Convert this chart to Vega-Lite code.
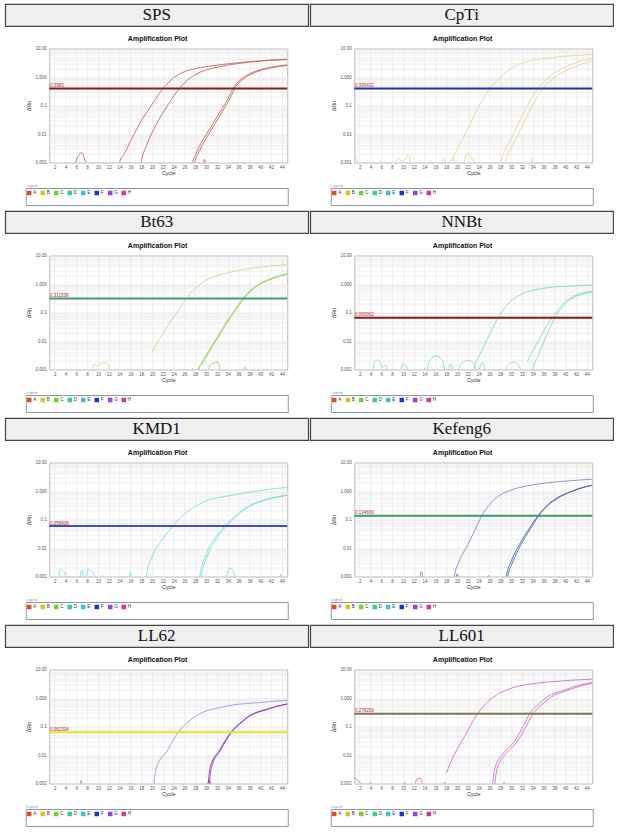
{
"$schema": "https://vega.github.io/schema/vega-lite/v6.json",
"padding": {"left": 4, "top": 3, "right": 0, "bottom": 0},
"background": "white",
"datasets": {
"leg": [{"k":"A"},{"k":"B"},{"k":"C"},{"k":"D"},{"k":"E"},{"k":"F"},{"k":"G"},{"k":"H"}],
"none": []
},
"config": {
"axis": {"labelFont": "Liberation Sans", "titleFont": "Liberation Sans", "labelFontSize": 4.5, "titleFontSize": 5.5, "titleFontWeight": "normal", "labelColor": "#555", "titleColor": "#333", "domain": false, "ticks": false, "gridColor": "#e2e2e2", "gridWidth": 0.6, "labelOverlap": false, "tickCount": 60},
"title": {"font": "Liberation Sans"}
},
"spacing": 4,
"vconcat": [
{"hconcat": [
 {"vconcat": [
  {"width": 303, "height": 22, "view": {"fill": "#efefef", "stroke": "#444", "strokeWidth": 1.2},
   "data": {"values": [{"n": "SPS"}]},
   "mark": {"type": "text", "font": "Liberation Serif", "fontSize": 17, "baseline": "middle", "color": "#111"},
   "encoding": {"text": {"field": "n"}}},
  {"hconcat": [
  {"width": 1, "height": 1, "view": {"stroke": null}, "data": {"name": "none"}, "mark": "point"},
  {"width": 238, "height": 114,
   "title": {"text": "Amplification Plot", "fontSize": 7, "fontWeight": "bold", "offset": 4, "frame": "bounds", "color": "#111"},
   "view": {"stroke": "#b8b8b8", "fill": "white"},
   "encoding": {"y": {"field": "v", "type": "quantitative", "scale": {"type": "log", "domain": [0.001, 10]}, "axis": {"title": "ΔRn", "tickCount": 60, "values": [0.001,0.002,0.003,0.004,0.005,0.006,0.007,0.008,0.009,0.01,0.02,0.03,0.04,0.05,0.06,0.07,0.08,0.09,0.1,0.2,0.3,0.4,0.5,0.6,0.7,0.8,0.9,1,2,3,4,5,6,7,8,9,10], "labelExpr": "datum.value==10?'10.00':datum.value==1?'1.000':datum.value==0.1?'0.1':datum.value==0.01?'0.01':datum.value==0.001?'0.001':''", "labelOverlap": false, "labelPadding": 3, "titlePadding": 3}}},
   "layer": [
    {"data": {"values": [
{"c":"1","x":13.7,"v":0.0005},{"c":"1","x":14,"v":0.001},{"c":"1","x":15,"v":0.0022},{"c":"1","x":16,"v":0.0056},{"c":"1","x":17,"v":0.0127},{"c":"1","x":18,"v":0.029},{"c":"1","x":19,"v":0.056},{"c":"1","x":20,"v":0.11},{"c":"1","x":21,"v":0.21},{"c":"1","x":22,"v":0.39},{"c":"1","x":23,"v":0.63},{"c":"1","x":24,"v":0.95},{"c":"1","x":25,"v":1.24},{"c":"1","x":26,"v":1.54},{"c":"1","x":28,"v":1.96},{"c":"1","x":30,"v":2.3},{"c":"1","x":34,"v":2.9},{"c":"1","x":38,"v":3.45},{"c":"1","x":42,"v":3.95},{"c":"1","x":45,"v":4.2},
{"c":"2","x":17.8,"v":0.0005},{"c":"2","x":18,"v":0.001},{"c":"2","x":19,"v":0.004},{"c":"2","x":20,"v":0.011},{"c":"2","x":21,"v":0.026},{"c":"2","x":22,"v":0.055},{"c":"2","x":23,"v":0.11},{"c":"2","x":24,"v":0.21},{"c":"2","x":25,"v":0.38},{"c":"2","x":26,"v":0.62},{"c":"2","x":27,"v":0.92},{"c":"2","x":28,"v":1.2},{"c":"2","x":29,"v":1.5},{"c":"2","x":30,"v":1.75},{"c":"2","x":32,"v":2.2},{"c":"2","x":34,"v":2.6},{"c":"2","x":36,"v":3.0},{"c":"2","x":38,"v":3.3},{"c":"2","x":40,"v":3.6},{"c":"2","x":42,"v":3.85},{"c":"2","x":45,"v":4.1},
{"c":"3","x":27.3,"v":0.0005},{"c":"3","x":27.5,"v":0.001},{"c":"3","x":28,"v":0.0018},{"c":"3","x":29,"v":0.0045},{"c":"3","x":30,"v":0.0095},{"c":"3","x":31,"v":0.019},{"c":"3","x":32,"v":0.04},{"c":"3","x":33,"v":0.08},{"c":"3","x":34,"v":0.17},{"c":"3","x":35,"v":0.4},{"c":"3","x":36,"v":0.7},{"c":"3","x":37,"v":1.0},{"c":"3","x":38,"v":1.3},{"c":"3","x":39,"v":1.55},{"c":"3","x":40,"v":1.8},{"c":"3","x":42,"v":2.2},{"c":"3","x":45,"v":2.65},
{"c":"4","x":27.7,"v":0.0005},{"c":"4","x":27.9,"v":0.001},{"c":"4","x":28.5,"v":0.002},{"c":"4","x":29.5,"v":0.0048},{"c":"4","x":30.5,"v":0.01},{"c":"4","x":31.5,"v":0.021},{"c":"4","x":32.5,"v":0.043},{"c":"4","x":33.5,"v":0.088},{"c":"4","x":34.5,"v":0.19},{"c":"4","x":35.3,"v":0.4},{"c":"4","x":36.3,"v":0.68},{"c":"4","x":37.3,"v":0.98},{"c":"4","x":38.3,"v":1.25},{"c":"4","x":39.3,"v":1.5},{"c":"4","x":40.3,"v":1.75},{"c":"4","x":42,"v":2.1},{"c":"4","x":45,"v":2.55},
{"c":"n1","x":5.7,"v":0.0005},{"c":"n1","x":6,"v":0.0012},{"c":"n1","x":7,"v":0.0022},{"c":"n1","x":7.6,"v":0.0012},{"c":"n1","x":8.1,"v":0.0005},
{"c":"n2","x":29.4,"v":0.0005},{"c":"n2","x":29.7,"v":0.0013},{"c":"n2","x":30,"v":0.0005}
    ]},
     "mark": {"type": "line", "clip": true, "interpolate": "monotone", "strokeWidth": 0.9, "color": "#c46a5e"},
     "encoding": {"x": {"field": "x", "type": "quantitative", "scale": {"domain": [1, 45], "nice": false, "zero": false}, "axis": {"title": "Cycle", "tickCount": 60, "values": [2,4,6,8,10,12,14,16,18,20,22,24,26,28,30,32,34,36,38,40,42,44], "labelPadding": 2, "titlePadding": 1, "labelFlush": false, "labelOverlap": false}}, "detail": {"field": "c"}}},
    {"data": {"values": [{"v": 0.3983, "lab": "0.3983"}]}, "mark": {"type": "rule", "color": "#8e1b1b", "strokeWidth": 2}, "encoding": {}},
    {"data": {"values": [{"v": 0.3983, "lab": "0.3983"}]}, "mark": {"type": "text", "align": "left", "baseline": "bottom", "dy": -0.5, "fontSize": 4.5, "color": "#c03030", "font": "Liberation Sans"}, "encoding": {"x": {"datum": 1.15}, "text": {"field": "lab"}}}
   ]}
  ], "spacing": 0},
  {"width": 262, "height": 17, "view": {"stroke": "#8a9aa4", "fill": "white"},
   "title": {"text": "Legend", "fontSize": 3.5, "anchor": "start", "offset": 1, "color": "#999", "fontWeight": "normal"},
   "data": {"name": "leg"},
   "encoding": {"x": {"field": "k", "type": "nominal", "scale": {"type": "point", "range": [3.5, 98], "padding": 0}, "axis": null}},
   "layer": [
    {"mark": {"type": "square", "size": 20, "opacity": 1, "yOffset": -3.5}, "encoding": {"color": {"field": "k", "type": "nominal", "scale": {"domain": ["A","B","C","D","E","F","G","H"], "range": ["#e8482a","#d8c41e","#6fd628","#2fd67a","#38c0e8","#2030d8","#9a3ee6","#e8308c"]}, "legend": null}}},
    {"mark": {"type": "text", "fontSize": 4.5, "align": "left", "dx": 4, "yOffset": -3.5, "color": "#333", "font": "Liberation Sans"}, "encoding": {"text": {"field": "k"}}}
   ]}
 ], "spacing": 6.5, "center": true},
 {"vconcat": [
  {"width": 303, "height": 22, "view": {"fill": "#efefef", "stroke": "#444", "strokeWidth": 1.2},
   "data": {"values": [{"n": "CpTi"}]},
   "mark": {"type": "text", "font": "Liberation Serif", "fontSize": 17, "baseline": "middle", "color": "#111"},
   "encoding": {"text": {"field": "n"}}},
  {"hconcat": [
  {"width": 1, "height": 1, "view": {"stroke": null}, "data": {"name": "none"}, "mark": "point"},
  {"width": 238, "height": 114,
   "title": {"text": "Amplification Plot", "fontSize": 7, "fontWeight": "bold", "offset": 4, "frame": "bounds", "color": "#111"},
   "view": {"stroke": "#b8b8b8", "fill": "white"},
   "encoding": {"y": {"field": "v", "type": "quantitative", "scale": {"type": "log", "domain": [0.001, 10]}, "axis": {"title": "ΔRn", "tickCount": 60, "values": [0.001,0.002,0.003,0.004,0.005,0.006,0.007,0.008,0.009,0.01,0.02,0.03,0.04,0.05,0.06,0.07,0.08,0.09,0.1,0.2,0.3,0.4,0.5,0.6,0.7,0.8,0.9,1,2,3,4,5,6,7,8,9,10], "labelExpr": "datum.value==10?'10.00':datum.value==1?'1.000':datum.value==0.1?'0.1':datum.value==0.01?'0.01':datum.value==0.001?'0.001':''", "labelOverlap": false, "labelPadding": 3, "titlePadding": 3}}},
   "layer": [
    {"data": {"values": [
{"c":"1","x":19,"v":0.0005},{"c":"1","x":19.3,"v":0.0013},{"c":"1","x":20.2,"v":0.0033},{"c":"1","x":21.5,"v":0.0098},{"c":"1","x":22.7,"v":0.029},{"c":"1","x":23.9,"v":0.083},{"c":"1","x":25.2,"v":0.22},{"c":"1","x":26.1,"v":0.4},{"c":"1","x":27.3,"v":0.72},{"c":"1","x":28.9,"v":1.42},{"c":"1","x":30.7,"v":2.4},{"c":"1","x":33.2,"v":3.6},{"c":"1","x":36.3,"v":4.5},{"c":"1","x":40,"v":5.3},{"c":"1","x":45,"v":6.3},
{"c":"2","x":27.9,"v":0.0005},{"c":"2","x":28.2,"v":0.0013},{"c":"2","x":29.1,"v":0.0033},{"c":"2","x":30.4,"v":0.0098},{"c":"2","x":31.6,"v":0.029},{"c":"2","x":32.8,"v":0.083},{"c":"2","x":34.1,"v":0.22},{"c":"2","x":35,"v":0.4},{"c":"2","x":36.2,"v":0.72},{"c":"2","x":37.8,"v":1.3},{"c":"2","x":39.6,"v":2.0},{"c":"2","x":42,"v":3.2},{"c":"2","x":45,"v":4.4},
{"c":"3","x":28.8,"v":0.0005},{"c":"3","x":29.1,"v":0.0013},{"c":"3","x":30,"v":0.0033},{"c":"3","x":31.3,"v":0.0098},{"c":"3","x":32.5,"v":0.029},{"c":"3","x":33.7,"v":0.083},{"c":"3","x":35,"v":0.22},{"c":"3","x":35.9,"v":0.4},{"c":"3","x":37.1,"v":0.7},{"c":"3","x":38.7,"v":1.2},{"c":"3","x":40.5,"v":1.8},{"c":"3","x":42.5,"v":2.6},{"c":"3","x":45,"v":3.7},
{"c":"n1","x":1,"v":0.0019},{"c":"n1","x":1.5,"v":0.0012},{"c":"n1","x":2.2,"v":0.0005},
{"c":"n2","x":5.4,"v":0.0005},{"c":"n2","x":5.8,"v":0.0011},{"c":"n2","x":6.3,"v":0.0005},
{"c":"n3","x":8.4,"v":0.0005},{"c":"n3","x":9.1,"v":0.0014},{"c":"n3","x":9.8,"v":0.0011},{"c":"n3","x":10.5,"v":0.0013},{"c":"n3","x":11,"v":0.0019},{"c":"n3","x":11.6,"v":0.0005},
{"c":"n4","x":14.5,"v":0.0005},{"c":"n4","x":15,"v":0.0012},{"c":"n4","x":15.5,"v":0.0005},
{"c":"n5","x":16.8,"v":0.0005},{"c":"n5","x":17.5,"v":0.0014},{"c":"n5","x":18.2,"v":0.0008},{"c":"n5","x":19.2,"v":0.0015},{"c":"n5","x":19.8,"v":0.0005},
{"c":"n6","x":21,"v":0.0005},{"c":"n6","x":21.9,"v":0.0021},{"c":"n6","x":23,"v":0.0012},{"c":"n6","x":24,"v":0.0005},
{"c":"n7","x":33.6,"v":0.0005},{"c":"n7","x":33.8,"v":0.0014},{"c":"n7","x":34,"v":0.0005}
    ]},
     "mark": {"type": "line", "clip": true, "interpolate": "monotone", "strokeWidth": 0.9, "color": "#e6d690"},
     "encoding": {"x": {"field": "x", "type": "quantitative", "scale": {"domain": [1, 45], "nice": false, "zero": false}, "axis": {"title": "Cycle", "tickCount": 60, "values": [2,4,6,8,10,12,14,16,18,20,22,24,26,28,30,32,34,36,38,40,42,44], "labelPadding": 2, "titlePadding": 1, "labelFlush": false, "labelOverlap": false}}, "detail": {"field": "c"}}},
    {"data": {"values": [{"v": 0.3954, "lab": "0.395432"}]}, "mark": {"type": "rule", "color": "#2233b0", "strokeWidth": 2}, "encoding": {}},
    {"data": {"values": [{"v": 0.3954, "lab": "0.395432"}]}, "mark": {"type": "text", "align": "left", "baseline": "bottom", "dy": -0.5, "fontSize": 4.5, "color": "#c03030", "font": "Liberation Sans"}, "encoding": {"x": {"datum": 1.15}, "text": {"field": "lab"}}}
   ]}
  ], "spacing": 0},
  {"width": 262, "height": 17, "view": {"stroke": "#8a9aa4", "fill": "white"},
   "title": {"text": "Legend", "fontSize": 3.5, "anchor": "start", "offset": 1, "color": "#999", "fontWeight": "normal"},
   "data": {"name": "leg"},
   "encoding": {"x": {"field": "k", "type": "nominal", "scale": {"type": "point", "range": [3.5, 98], "padding": 0}, "axis": null}},
   "layer": [
    {"mark": {"type": "square", "size": 20, "opacity": 1, "yOffset": -3.5}, "encoding": {"color": {"field": "k", "type": "nominal", "scale": {"domain": ["A","B","C","D","E","F","G","H"], "range": ["#e8482a","#d8c41e","#6fd628","#2fd67a","#38c0e8","#2030d8","#9a3ee6","#e8308c"]}, "legend": null}}},
    {"mark": {"type": "text", "fontSize": 4.5, "align": "left", "dx": 4, "yOffset": -3.5, "color": "#333", "font": "Liberation Sans"}, "encoding": {"text": {"field": "k"}}}
   ]}
 ], "spacing": 6.5, "center": true}
], "spacing": 0},
{"hconcat": [
 {"vconcat": [
  {"width": 303, "height": 22, "view": {"fill": "#efefef", "stroke": "#444", "strokeWidth": 1.2},
   "data": {"values": [{"n": "Bt63"}]},
   "mark": {"type": "text", "font": "Liberation Serif", "fontSize": 17, "baseline": "middle", "color": "#111"},
   "encoding": {"text": {"field": "n"}}},
  {"hconcat": [
  {"width": 1, "height": 1, "view": {"stroke": null}, "data": {"name": "none"}, "mark": "point"},
  {"width": 238, "height": 114,
   "title": {"text": "Amplification Plot", "fontSize": 7, "fontWeight": "bold", "offset": 4, "frame": "bounds", "color": "#111"},
   "view": {"stroke": "#b8b8b8", "fill": "white"},
   "data": {"values": [
{"c":"1","x":20,"v":0.0043},{"c":"1","x":21,"v":0.009},{"c":"1","x":22,"v":0.018},{"c":"1","x":23,"v":0.037},{"c":"1","x":24,"v":0.07},{"c":"1","x":25,"v":0.13},{"c":"1","x":26,"v":0.24},{"c":"1","x":27,"v":0.45},{"c":"1","x":28,"v":0.7},{"c":"1","x":29,"v":1.0},{"c":"1","x":30,"v":1.35},{"c":"1","x":32,"v":1.95},{"c":"1","x":34,"v":2.5},{"c":"1","x":36,"v":3.0},{"c":"1","x":38,"v":3.45},{"c":"1","x":40,"v":3.9},{"c":"1","x":42,"v":4.3},{"c":"1","x":45,"v":4.8},
{"c":"2","x":28.3,"v":0.0005},{"c":"2","x":28.5,"v":0.001},{"c":"2","x":29,"v":0.0015},{"c":"2","x":30,"v":0.0032},{"c":"2","x":31,"v":0.0065},{"c":"2","x":32,"v":0.013},{"c":"2","x":33,"v":0.027},{"c":"2","x":34,"v":0.055},{"c":"2","x":35,"v":0.1},{"c":"2","x":36,"v":0.19},{"c":"2","x":37,"v":0.35},{"c":"2","x":38,"v":0.55},{"c":"2","x":39,"v":0.8},{"c":"2","x":40,"v":1.05},{"c":"2","x":41,"v":1.3},{"c":"2","x":42,"v":1.55},{"c":"2","x":43,"v":1.8},{"c":"2","x":45,"v":2.3},
{"c":"3","x":28.45,"v":0.0005},{"c":"3","x":28.65,"v":0.001},{"c":"3","x":29.15,"v":0.0015},{"c":"3","x":30.15,"v":0.0031},{"c":"3","x":31.15,"v":0.0063},{"c":"3","x":32.15,"v":0.0127},{"c":"3","x":33.15,"v":0.026},{"c":"3","x":34.15,"v":0.053},{"c":"3","x":35.15,"v":0.098},{"c":"3","x":36.15,"v":0.185},{"c":"3","x":37.15,"v":0.34},{"c":"3","x":38.15,"v":0.53},{"c":"3","x":39.15,"v":0.78},{"c":"3","x":40.15,"v":1.02},{"c":"3","x":41.15,"v":1.27},{"c":"3","x":42.15,"v":1.5},{"c":"3","x":43.15,"v":1.75},{"c":"3","x":45,"v":2.2},
{"c":"n1","x":8.8,"v":0.0005},{"c":"n1","x":9.2,"v":0.0015},{"c":"n1","x":10,"v":0.0013},{"c":"n1","x":10.7,"v":0.0017},{"c":"n1","x":11.6,"v":0.0017},{"c":"n1","x":12.6,"v":0.0005},
{"c":"n2","x":27.2,"v":0.0005},{"c":"n2","x":27.5,"v":0.0011},{"c":"n2","x":27.9,"v":0.0005},
{"c":"n3","x":30.2,"v":0.0005},{"c":"n3","x":30.8,"v":0.0015},{"c":"n3","x":31.5,"v":0.0017},{"c":"n3","x":32.2,"v":0.0018},{"c":"n3","x":32.8,"v":0.0005},
{"c":"n4","x":36.7,"v":0.0005},{"c":"n4","x":37.2,"v":0.0012},{"c":"n4","x":37.8,"v":0.0005}
   ]},
   "encoding": {"y": {"field": "v", "type": "quantitative", "scale": {"type": "log", "domain": [0.001, 10]}, "axis": {"title": "ΔRn", "tickCount": 60, "values": [0.001,0.002,0.003,0.004,0.005,0.006,0.007,0.008,0.009,0.01,0.02,0.03,0.04,0.05,0.06,0.07,0.08,0.09,0.1,0.2,0.3,0.4,0.5,0.6,0.7,0.8,0.9,1,2,3,4,5,6,7,8,9,10], "labelExpr": "datum.value==10?'10.00':datum.value==1?'1.000':datum.value==0.1?'0.1':datum.value==0.01?'0.01':datum.value==0.001?'0.001':''", "labelOverlap": false, "labelPadding": 3, "titlePadding": 3}}},
   "layer": [
    {"transform": [{"filter": "datum.c == '1' || datum.c == 'n1'"}],
     "mark": {"type": "line", "clip": true, "interpolate": "monotone", "strokeWidth": 0.9, "color": "#bde08f"},
     "encoding": {"x": {"field": "x", "type": "quantitative", "scale": {"domain": [1, 45], "nice": false, "zero": false}, "axis": {"title": "Cycle", "tickCount": 60, "values": [2,4,6,8,10,12,14,16,18,20,22,24,26,28,30,32,34,36,38,40,42,44], "labelPadding": 2, "titlePadding": 1, "labelFlush": false, "labelOverlap": false}}, "detail": {"field": "c"}}},
    {"transform": [{"filter": "datum.c != '1' && datum.c != 'n1'"}],
     "mark": {"type": "line", "clip": true, "interpolate": "monotone", "strokeWidth": 0.9, "color": "#99d160"},
     "encoding": {"x": {"field": "x", "type": "quantitative", "scale": {"domain": [1, 45], "nice": false, "zero": false}, "axis": {"title": "Cycle", "tickCount": 60, "values": [2,4,6,8,10,12,14,16,18,20,22,24,26,28,30,32,34,36,38,40,42,44], "labelPadding": 2, "titlePadding": 1, "labelFlush": false, "labelOverlap": false}}, "detail": {"field": "c"}}},
    {"data": {"values": [{"v": 0.3115, "lab": "0.311538"}]}, "mark": {"type": "rule", "color": "#3f9e72", "strokeWidth": 2}, "encoding": {}},
    {"data": {"values": [{"v": 0.3115, "lab": "0.311538"}]}, "mark": {"type": "text", "align": "left", "baseline": "bottom", "dy": -0.5, "fontSize": 4.5, "color": "#c03030", "font": "Liberation Sans"}, "encoding": {"x": {"datum": 1.15}, "text": {"field": "lab"}}}
   ]}
  ], "spacing": 0},
  {"width": 262, "height": 17, "view": {"stroke": "#8a9aa4", "fill": "white"},
   "title": {"text": "Legend", "fontSize": 3.5, "anchor": "start", "offset": 1, "color": "#999", "fontWeight": "normal"},
   "data": {"name": "leg"},
   "encoding": {"x": {"field": "k", "type": "nominal", "scale": {"type": "point", "range": [3.5, 98], "padding": 0}, "axis": null}},
   "layer": [
    {"mark": {"type": "square", "size": 20, "opacity": 1, "yOffset": -3.5}, "encoding": {"color": {"field": "k", "type": "nominal", "scale": {"domain": ["A","B","C","D","E","F","G","H"], "range": ["#e8482a","#d8c41e","#6fd628","#2fd67a","#38c0e8","#2030d8","#9a3ee6","#e8308c"]}, "legend": null}}},
    {"mark": {"type": "text", "fontSize": 4.5, "align": "left", "dx": 4, "yOffset": -3.5, "color": "#333", "font": "Liberation Sans"}, "encoding": {"text": {"field": "k"}}}
   ]}
 ], "spacing": 6.5, "center": true},
 {"vconcat": [
  {"width": 303, "height": 22, "view": {"fill": "#efefef", "stroke": "#444", "strokeWidth": 1.2},
   "data": {"values": [{"n": "NNBt"}]},
   "mark": {"type": "text", "font": "Liberation Serif", "fontSize": 17, "baseline": "middle", "color": "#111"},
   "encoding": {"text": {"field": "n"}}},
  {"hconcat": [
  {"width": 1, "height": 1, "view": {"stroke": null}, "data": {"name": "none"}, "mark": "point"},
  {"width": 238, "height": 114,
   "title": {"text": "Amplification Plot", "fontSize": 7, "fontWeight": "bold", "offset": 4, "frame": "bounds", "color": "#111"},
   "view": {"stroke": "#b8b8b8", "fill": "white"},
   "encoding": {"y": {"field": "v", "type": "quantitative", "scale": {"type": "log", "domain": [0.001, 10]}, "axis": {"title": "ΔRn", "tickCount": 60, "values": [0.001,0.002,0.003,0.004,0.005,0.006,0.007,0.008,0.009,0.01,0.02,0.03,0.04,0.05,0.06,0.07,0.08,0.09,0.1,0.2,0.3,0.4,0.5,0.6,0.7,0.8,0.9,1,2,3,4,5,6,7,8,9,10], "labelExpr": "datum.value==10?'10.00':datum.value==1?'1.000':datum.value==0.1?'0.1':datum.value==0.01?'0.01':datum.value==0.001?'0.001':''", "labelOverlap": false, "labelPadding": 3, "titlePadding": 3}}},
   "layer": [
    {"data": {"values": [
{"c":"1","x":23,"v":0.0005},{"c":"1","x":23.2,"v":0.0012},{"c":"1","x":24,"v":0.0027},{"c":"1","x":25,"v":0.0069},{"c":"1","x":26,"v":0.017},{"c":"1","x":27,"v":0.041},{"c":"1","x":28,"v":0.088},{"c":"1","x":29,"v":0.16},{"c":"1","x":30,"v":0.26},{"c":"1","x":31,"v":0.35},{"c":"1","x":32,"v":0.45},{"c":"1","x":34,"v":0.6},{"c":"1","x":36,"v":0.71},{"c":"1","x":38,"v":0.79},{"c":"1","x":41,"v":0.85},{"c":"1","x":45,"v":0.92},
{"c":"2","x":33,"v":0.0019},{"c":"2","x":34,"v":0.0045},{"c":"2","x":35,"v":0.01},{"c":"2","x":36,"v":0.022},{"c":"2","x":37,"v":0.045},{"c":"2","x":38,"v":0.085},{"c":"2","x":39,"v":0.15},{"c":"2","x":40,"v":0.24},{"c":"2","x":41,"v":0.33},{"c":"2","x":42,"v":0.41},{"c":"2","x":43,"v":0.47},{"c":"2","x":44,"v":0.52},{"c":"2","x":45,"v":0.56},
{"c":"3","x":33.8,"v":0.0005},{"c":"3","x":34,"v":0.001},{"c":"3","x":35,"v":0.003},{"c":"3","x":36,"v":0.009},{"c":"3","x":37,"v":0.025},{"c":"3","x":38,"v":0.06},{"c":"3","x":39,"v":0.12},{"c":"3","x":40,"v":0.2},{"c":"3","x":41,"v":0.29},{"c":"3","x":42,"v":0.37},{"c":"3","x":43,"v":0.43},{"c":"3","x":44,"v":0.48},{"c":"3","x":45,"v":0.52},
{"c":"n1","x":4.3,"v":0.0005},{"c":"n1","x":4.8,"v":0.0019},{"c":"n1","x":5.4,"v":0.0022},{"c":"n1","x":6.2,"v":0.0012},{"c":"n1","x":6.8,"v":0.0014},{"c":"n1","x":7.3,"v":0.0005},
{"c":"n2","x":9.3,"v":0.0005},{"c":"n2","x":10,"v":0.0016},{"c":"n2","x":10.7,"v":0.0012},{"c":"n2","x":11.2,"v":0.0005},
{"c":"n3","x":13.4,"v":0.0005},{"c":"n3","x":14,"v":0.0011},{"c":"n3","x":14.6,"v":0.0005},
{"c":"n4","x":14.2,"v":0.0005},{"c":"n4","x":15,"v":0.0022},{"c":"n4","x":16.1,"v":0.003},{"c":"n4","x":17.2,"v":0.0022},{"c":"n4","x":18,"v":0.0005},
{"c":"n5","x":18.2,"v":0.0005},{"c":"n5","x":18.8,"v":0.0016},{"c":"n5","x":19.5,"v":0.0005},
{"c":"n6","x":19.8,"v":0.0005},{"c":"n6","x":21,"v":0.0018},{"c":"n6","x":22,"v":0.0021},{"c":"n6","x":23,"v":0.0017},{"c":"n6","x":24,"v":0.0005},
{"c":"n7","x":23.8,"v":0.0005},{"c":"n7","x":24.7,"v":0.0018},{"c":"n7","x":25.3,"v":0.0005},
{"c":"n8","x":28.5,"v":0.0005},{"c":"n8","x":29.5,"v":0.0015},{"c":"n8","x":30.6,"v":0.0018},{"c":"n8","x":31.5,"v":0.0013},{"c":"n8","x":32.2,"v":0.0005}
    ]},
     "mark": {"type": "line", "clip": true, "interpolate": "monotone", "strokeWidth": 0.9, "color": "#86deb0"},
     "encoding": {"x": {"field": "x", "type": "quantitative", "scale": {"domain": [1, 45], "nice": false, "zero": false}, "axis": {"title": "Cycle", "tickCount": 60, "values": [2,4,6,8,10,12,14,16,18,20,22,24,26,28,30,32,34,36,38,40,42,44], "labelPadding": 2, "titlePadding": 1, "labelFlush": false, "labelOverlap": false}}, "detail": {"field": "c"}}},
    {"data": {"values": [{"v": 0.066, "lab": "0.065962"}]}, "mark": {"type": "rule", "color": "#8e1b1b", "strokeWidth": 2}, "encoding": {}},
    {"data": {"values": [{"v": 0.066, "lab": "0.065962"}]}, "mark": {"type": "text", "align": "left", "baseline": "bottom", "dy": -0.5, "fontSize": 4.5, "color": "#c03030", "font": "Liberation Sans"}, "encoding": {"x": {"datum": 1.15}, "text": {"field": "lab"}}}
   ]}
  ], "spacing": 0},
  {"width": 262, "height": 17, "view": {"stroke": "#8a9aa4", "fill": "white"},
   "title": {"text": "Legend", "fontSize": 3.5, "anchor": "start", "offset": 1, "color": "#999", "fontWeight": "normal"},
   "data": {"name": "leg"},
   "encoding": {"x": {"field": "k", "type": "nominal", "scale": {"type": "point", "range": [3.5, 98], "padding": 0}, "axis": null}},
   "layer": [
    {"mark": {"type": "square", "size": 20, "opacity": 1, "yOffset": -3.5}, "encoding": {"color": {"field": "k", "type": "nominal", "scale": {"domain": ["A","B","C","D","E","F","G","H"], "range": ["#e8482a","#d8c41e","#6fd628","#2fd67a","#38c0e8","#2030d8","#9a3ee6","#e8308c"]}, "legend": null}}},
    {"mark": {"type": "text", "fontSize": 4.5, "align": "left", "dx": 4, "yOffset": -3.5, "color": "#333", "font": "Liberation Sans"}, "encoding": {"text": {"field": "k"}}}
   ]}
 ], "spacing": 6.5, "center": true}
], "spacing": 0},
{"hconcat": [
 {"vconcat": [
  {"width": 303, "height": 22, "view": {"fill": "#efefef", "stroke": "#444", "strokeWidth": 1.2},
   "data": {"values": [{"n": "KMD1"}]},
   "mark": {"type": "text", "font": "Liberation Serif", "fontSize": 17, "baseline": "middle", "color": "#111"},
   "encoding": {"text": {"field": "n"}}},
  {"hconcat": [
  {"width": 1, "height": 1, "view": {"stroke": null}, "data": {"name": "none"}, "mark": "point"},
  {"width": 238, "height": 114,
   "title": {"text": "Amplification Plot", "fontSize": 7, "fontWeight": "bold", "offset": 4, "frame": "bounds", "color": "#111"},
   "view": {"stroke": "#b8b8b8", "fill": "white"},
   "encoding": {"y": {"field": "v", "type": "quantitative", "scale": {"type": "log", "domain": [0.001, 10]}, "axis": {"title": "ΔRn", "tickCount": 60, "values": [0.001,0.002,0.003,0.004,0.005,0.006,0.007,0.008,0.009,0.01,0.02,0.03,0.04,0.05,0.06,0.07,0.08,0.09,0.1,0.2,0.3,0.4,0.5,0.6,0.7,0.8,0.9,1,2,3,4,5,6,7,8,9,10], "labelExpr": "datum.value==10?'10.00':datum.value==1?'1.000':datum.value==0.1?'0.1':datum.value==0.01?'0.01':datum.value==0.001?'0.001':''", "labelOverlap": false, "labelPadding": 3, "titlePadding": 3}}},
   "layer": [
    {"data": {"values": [
{"c":"1","x":18.7,"v":0.0005},{"c":"1","x":18.9,"v":0.001},{"c":"1","x":20.2,"v":0.0059},{"c":"1","x":22.1,"v":0.022},{"c":"1","x":23.8,"v":0.059},{"c":"1","x":25.8,"v":0.145},{"c":"1","x":27.6,"v":0.26},{"c":"1","x":30,"v":0.45},{"c":"1","x":32.5,"v":0.6},{"c":"1","x":35,"v":0.72},{"c":"1","x":37.5,"v":0.87},{"c":"1","x":39.8,"v":1.03},{"c":"1","x":42.5,"v":1.2},{"c":"1","x":45,"v":1.34},
{"c":"2","x":28.6,"v":0.0005},{"c":"2","x":28.8,"v":0.001},{"c":"2","x":30,"v":0.0059},{"c":"2","x":31.9,"v":0.026},{"c":"2","x":33.5,"v":0.059},{"c":"2","x":35.6,"v":0.145},{"c":"2","x":38,"v":0.31},{"c":"2","x":41.1,"v":0.51},{"c":"2","x":45,"v":0.72},
{"c":"3","x":28.9,"v":0.0005},{"c":"3","x":29.1,"v":0.001},{"c":"3","x":30.3,"v":0.0055},{"c":"3","x":32.1,"v":0.024},{"c":"3","x":33.7,"v":0.057},{"c":"3","x":35.8,"v":0.14},{"c":"3","x":38.2,"v":0.3},{"c":"3","x":41.2,"v":0.49},{"c":"3","x":45,"v":0.7},
{"c":"n1","x":2.6,"v":0.0005},{"c":"n1","x":3,"v":0.0018},{"c":"n1","x":3.8,"v":0.0014},{"c":"n1","x":4.4,"v":0.0005},
{"c":"n2","x":6.6,"v":0.0005},{"c":"n2","x":7,"v":0.0017},{"c":"n2","x":7.4,"v":0.0005},
{"c":"n3","x":7.8,"v":0.0005},{"c":"n3","x":8.2,"v":0.0018},{"c":"n3","x":9.2,"v":0.0013},{"c":"n3","x":9.6,"v":0.0005},
{"c":"n4","x":10.6,"v":0.0005},{"c":"n4","x":10.8,"v":0.0011},{"c":"n4","x":11,"v":0.0005},
{"c":"n5","x":15.6,"v":0.0005},{"c":"n5","x":16,"v":0.0014},{"c":"n5","x":16.4,"v":0.0005},
{"c":"n6","x":33.3,"v":0.0005},{"c":"n6","x":34.5,"v":0.002},{"c":"n6","x":35.8,"v":0.0005},
{"c":"n7","x":43.6,"v":0.0005},{"c":"n7","x":43.8,"v":0.0012},{"c":"n7","x":44,"v":0.0005}
    ]},
     "mark": {"type": "line", "clip": true, "interpolate": "monotone", "strokeWidth": 0.9, "color": "#7ee0e0"},
     "encoding": {"x": {"field": "x", "type": "quantitative", "scale": {"domain": [1, 45], "nice": false, "zero": false}, "axis": {"title": "Cycle", "tickCount": 60, "values": [2,4,6,8,10,12,14,16,18,20,22,24,26,28,30,32,34,36,38,40,42,44], "labelPadding": 2, "titlePadding": 1, "labelFlush": false, "labelOverlap": false}}, "detail": {"field": "c"}}},
    {"data": {"values": [{"v": 0.0589, "lab": "0.058908"}]}, "mark": {"type": "rule", "color": "#4646d8", "strokeWidth": 2}, "encoding": {}},
    {"data": {"values": [{"v": 0.0589, "lab": "0.058908"}]}, "mark": {"type": "text", "align": "left", "baseline": "bottom", "dy": -0.5, "fontSize": 4.5, "color": "#c03030", "font": "Liberation Sans"}, "encoding": {"x": {"datum": 1.15}, "text": {"field": "lab"}}}
   ]}
  ], "spacing": 0},
  {"width": 262, "height": 17, "view": {"stroke": "#8a9aa4", "fill": "white"},
   "title": {"text": "Legend", "fontSize": 3.5, "anchor": "start", "offset": 1, "color": "#999", "fontWeight": "normal"},
   "data": {"name": "leg"},
   "encoding": {"x": {"field": "k", "type": "nominal", "scale": {"type": "point", "range": [3.5, 98], "padding": 0}, "axis": null}},
   "layer": [
    {"mark": {"type": "square", "size": 20, "opacity": 1, "yOffset": -3.5}, "encoding": {"color": {"field": "k", "type": "nominal", "scale": {"domain": ["A","B","C","D","E","F","G","H"], "range": ["#e8482a","#d8c41e","#6fd628","#2fd67a","#38c0e8","#2030d8","#9a3ee6","#e8308c"]}, "legend": null}}},
    {"mark": {"type": "text", "fontSize": 4.5, "align": "left", "dx": 4, "yOffset": -3.5, "color": "#333", "font": "Liberation Sans"}, "encoding": {"text": {"field": "k"}}}
   ]}
 ], "spacing": 6.5, "center": true},
 {"vconcat": [
  {"width": 303, "height": 22, "view": {"fill": "#efefef", "stroke": "#444", "strokeWidth": 1.2},
   "data": {"values": [{"n": "Kefeng6"}]},
   "mark": {"type": "text", "font": "Liberation Serif", "fontSize": 17, "baseline": "middle", "color": "#111"},
   "encoding": {"text": {"field": "n"}}},
  {"hconcat": [
  {"width": 1, "height": 1, "view": {"stroke": null}, "data": {"name": "none"}, "mark": "point"},
  {"width": 238, "height": 114,
   "title": {"text": "Amplification Plot", "fontSize": 7, "fontWeight": "bold", "offset": 4, "frame": "bounds", "color": "#111"},
   "view": {"stroke": "#b8b8b8", "fill": "white"},
   "data": {"values": [
{"c":"1","x":19.3,"v":0.0005},{"c":"1","x":19.5,"v":0.001},{"c":"1","x":20.4,"v":0.0034},{"c":"1","x":22,"v":0.013},{"c":"1","x":23.5,"v":0.05},{"c":"1","x":24.6,"v":0.138},{"c":"1","x":25.7,"v":0.28},{"c":"1","x":27.5,"v":0.63},{"c":"1","x":30,"v":1.08},{"c":"1","x":33.1,"v":1.53},{"c":"1","x":37.4,"v":2.0},{"c":"1","x":41,"v":2.3},{"c":"1","x":45,"v":2.6},
{"c":"2","x":28.9,"v":0.0005},{"c":"2","x":29.1,"v":0.001},{"c":"2","x":30,"v":0.0034},{"c":"2","x":31.5,"v":0.013},{"c":"2","x":33.4,"v":0.05},{"c":"2","x":35,"v":0.138},{"c":"2","x":36.7,"v":0.32},{"c":"2","x":38.6,"v":0.59},{"c":"2","x":41,"v":0.95},{"c":"2","x":43,"v":1.3},{"c":"2","x":45,"v":1.62},
{"c":"3","x":29.2,"v":0.0005},{"c":"3","x":29.4,"v":0.001},{"c":"3","x":30.3,"v":0.0032},{"c":"3","x":31.7,"v":0.012},{"c":"3","x":33.6,"v":0.048},{"c":"3","x":35.1,"v":0.135},{"c":"3","x":36.8,"v":0.31},{"c":"3","x":38.7,"v":0.57},{"c":"3","x":41,"v":0.92},{"c":"3","x":43,"v":1.27},{"c":"3","x":45,"v":1.58},
{"c":"n1","x":13,"v":0.0005},{"c":"n1","x":13.4,"v":0.0015},{"c":"n1","x":13.8,"v":0.0005},
{"c":"n2","x":19.7,"v":0.0005},{"c":"n2","x":20,"v":0.0012},{"c":"n2","x":20.7,"v":0.0005},
{"c":"n3","x":25.5,"v":0.0005},{"c":"n3","x":25.8,"v":0.0011},{"c":"n3","x":26.2,"v":0.0005}
   ]},
   "encoding": {"y": {"field": "v", "type": "quantitative", "scale": {"type": "log", "domain": [0.001, 10]}, "axis": {"title": "ΔRn", "tickCount": 60, "values": [0.001,0.002,0.003,0.004,0.005,0.006,0.007,0.008,0.009,0.01,0.02,0.03,0.04,0.05,0.06,0.07,0.08,0.09,0.1,0.2,0.3,0.4,0.5,0.6,0.7,0.8,0.9,1,2,3,4,5,6,7,8,9,10], "labelExpr": "datum.value==10?'10.00':datum.value==1?'1.000':datum.value==0.1?'0.1':datum.value==0.01?'0.01':datum.value==0.001?'0.001':''", "labelOverlap": false, "labelPadding": 3, "titlePadding": 3}}},
   "layer": [
    {"transform": [{"filter": "datum.c == '1' || datum.c == 'n1' || datum.c == 'n3'"}],
     "mark": {"type": "line", "clip": true, "interpolate": "monotone", "strokeWidth": 0.9, "color": "#7d8cc4"},
     "encoding": {"x": {"field": "x", "type": "quantitative", "scale": {"domain": [1, 45], "nice": false, "zero": false}, "axis": {"title": "Cycle", "tickCount": 60, "values": [2,4,6,8,10,12,14,16,18,20,22,24,26,28,30,32,34,36,38,40,42,44], "labelPadding": 2, "titlePadding": 1, "labelFlush": false, "labelOverlap": false}}, "detail": {"field": "c"}}},
    {"transform": [{"filter": "datum.c == '2' || datum.c == '3' || datum.c == 'n2'"}],
     "mark": {"type": "line", "clip": true, "interpolate": "monotone", "strokeWidth": 0.9, "color": "#4f66b4"},
     "encoding": {"x": {"field": "x", "type": "quantitative", "scale": {"domain": [1, 45], "nice": false, "zero": false}, "axis": {"title": "Cycle", "tickCount": 60, "values": [2,4,6,8,10,12,14,16,18,20,22,24,26,28,30,32,34,36,38,40,42,44], "labelPadding": 2, "titlePadding": 1, "labelFlush": false, "labelOverlap": false}}, "detail": {"field": "c"}}},
    {"data": {"values": [{"v": 0.1347, "lab": "0.134669"}]}, "mark": {"type": "rule", "color": "#2fa05f", "strokeWidth": 2}, "encoding": {}},
    {"data": {"values": [{"v": 0.1347, "lab": "0.134669"}]}, "mark": {"type": "text", "align": "left", "baseline": "bottom", "dy": -0.5, "fontSize": 4.5, "color": "#c03030", "font": "Liberation Sans"}, "encoding": {"x": {"datum": 1.15}, "text": {"field": "lab"}}}
   ]}
  ], "spacing": 0},
  {"width": 262, "height": 17, "view": {"stroke": "#8a9aa4", "fill": "white"},
   "title": {"text": "Legend", "fontSize": 3.5, "anchor": "start", "offset": 1, "color": "#999", "fontWeight": "normal"},
   "data": {"name": "leg"},
   "encoding": {"x": {"field": "k", "type": "nominal", "scale": {"type": "point", "range": [3.5, 98], "padding": 0}, "axis": null}},
   "layer": [
    {"mark": {"type": "square", "size": 20, "opacity": 1, "yOffset": -3.5}, "encoding": {"color": {"field": "k", "type": "nominal", "scale": {"domain": ["A","B","C","D","E","F","G","H"], "range": ["#e8482a","#d8c41e","#6fd628","#2fd67a","#38c0e8","#2030d8","#9a3ee6","#e8308c"]}, "legend": null}}},
    {"mark": {"type": "text", "fontSize": 4.5, "align": "left", "dx": 4, "yOffset": -3.5, "color": "#333", "font": "Liberation Sans"}, "encoding": {"text": {"field": "k"}}}
   ]}
 ], "spacing": 6.5, "center": true}
], "spacing": 0},
{"hconcat": [
 {"vconcat": [
  {"width": 303, "height": 22, "view": {"fill": "#efefef", "stroke": "#444", "strokeWidth": 1.2},
   "data": {"values": [{"n": "LL62"}]},
   "mark": {"type": "text", "font": "Liberation Serif", "fontSize": 17, "baseline": "middle", "color": "#111"},
   "encoding": {"text": {"field": "n"}}},
  {"hconcat": [
  {"width": 1, "height": 1, "view": {"stroke": null}, "data": {"name": "none"}, "mark": "point"},
  {"width": 238, "height": 114,
   "title": {"text": "Amplification Plot", "fontSize": 7, "fontWeight": "bold", "offset": 4, "frame": "bounds", "color": "#111"},
   "view": {"stroke": "#b8b8b8", "fill": "white"},
   "data": {"values": [
{"c":"1","x":20.3,"v":0.0005},{"c":"1","x":20.4,"v":0.001},{"c":"1","x":20.9,"v":0.004},{"c":"1","x":22.7,"v":0.013},{"c":"1","x":24.9,"v":0.065},{"c":"1","x":26.4,"v":0.13},{"c":"1","x":27.6,"v":0.2},{"c":"1","x":30,"v":0.35},{"c":"1","x":32.5,"v":0.46},{"c":"1","x":34.9,"v":0.57},{"c":"1","x":37.5,"v":0.64},{"c":"1","x":39.8,"v":0.69},{"c":"1","x":42.5,"v":0.77},{"c":"1","x":45,"v":0.83},
{"c":"2","x":30.3,"v":0.0005},{"c":"2","x":30.4,"v":0.001},{"c":"2","x":30.8,"v":0.004},{"c":"2","x":32.5,"v":0.015},{"c":"2","x":34.6,"v":0.065},{"c":"2","x":36.2,"v":0.13},{"c":"2","x":38,"v":0.24},{"c":"2","x":41.1,"v":0.4},{"c":"2","x":43,"v":0.51},{"c":"2","x":45,"v":0.62},
{"c":"3","x":30.5,"v":0.0005},{"c":"3","x":30.6,"v":0.001},{"c":"3","x":31,"v":0.0038},{"c":"3","x":32.6,"v":0.014},{"c":"3","x":34.7,"v":0.063},{"c":"3","x":36.3,"v":0.126},{"c":"3","x":38.1,"v":0.235},{"c":"3","x":41.2,"v":0.39},{"c":"3","x":43,"v":0.5},{"c":"3","x":45,"v":0.61},
{"c":"n1","x":6.6,"v":0.0005},{"c":"n1","x":6.9,"v":0.0013},{"c":"n1","x":7.2,"v":0.0005},
{"c":"n2","x":15.8,"v":0.0005},{"c":"n2","x":16,"v":0.00105},{"c":"n2","x":16.4,"v":0.0005},
{"c":"n3","x":30,"v":0.0005},{"c":"n3","x":30.6,"v":0.0013},{"c":"n3","x":31.2,"v":0.0005}
   ]},
   "encoding": {"y": {"field": "v", "type": "quantitative", "scale": {"type": "log", "domain": [0.001, 10]}, "axis": {"title": "ΔRn", "tickCount": 60, "values": [0.001,0.002,0.003,0.004,0.005,0.006,0.007,0.008,0.009,0.01,0.02,0.03,0.04,0.05,0.06,0.07,0.08,0.09,0.1,0.2,0.3,0.4,0.5,0.6,0.7,0.8,0.9,1,2,3,4,5,6,7,8,9,10], "labelExpr": "datum.value==10?'10.00':datum.value==1?'1.000':datum.value==0.1?'0.1':datum.value==0.01?'0.01':datum.value==0.001?'0.001':''", "labelOverlap": false, "labelPadding": 3, "titlePadding": 3}}},
   "layer": [
    {"transform": [{"filter": "datum.c == '1' || datum.c == 'n1' || datum.c == 'n2'"}],
     "mark": {"type": "line", "clip": true, "interpolate": "monotone", "strokeWidth": 0.9, "color": "#b888d8"},
     "encoding": {"x": {"field": "x", "type": "quantitative", "scale": {"domain": [1, 45], "nice": false, "zero": false}, "axis": {"title": "Cycle", "tickCount": 60, "values": [2,4,6,8,10,12,14,16,18,20,22,24,26,28,30,32,34,36,38,40,42,44], "labelPadding": 2, "titlePadding": 1, "labelFlush": false, "labelOverlap": false}}, "detail": {"field": "c"}}},
    {"transform": [{"filter": "datum.c == '2' || datum.c == '3' || datum.c == 'n3'"}],
     "mark": {"type": "line", "clip": true, "interpolate": "monotone", "strokeWidth": 0.9, "color": "#9040c0"},
     "encoding": {"x": {"field": "x", "type": "quantitative", "scale": {"domain": [1, 45], "nice": false, "zero": false}, "axis": {"title": "Cycle", "tickCount": 60, "values": [2,4,6,8,10,12,14,16,18,20,22,24,26,28,30,32,34,36,38,40,42,44], "labelPadding": 2, "titlePadding": 1, "labelFlush": false, "labelOverlap": false}}, "detail": {"field": "c"}}},
    {"data": {"values": [{"v": 0.0623, "lab": "0.062304"}]}, "mark": {"type": "rule", "color": "#e6e628", "strokeWidth": 2}, "encoding": {}},
    {"data": {"values": [{"v": 0.0623, "lab": "0.062304"}]}, "mark": {"type": "text", "align": "left", "baseline": "bottom", "dy": -0.5, "fontSize": 4.5, "color": "#c03030", "font": "Liberation Sans"}, "encoding": {"x": {"datum": 1.15}, "text": {"field": "lab"}}}
   ]}
  ], "spacing": 0},
  {"width": 262, "height": 17, "view": {"stroke": "#8a9aa4", "fill": "white"},
   "title": {"text": "Legend", "fontSize": 3.5, "anchor": "start", "offset": 1, "color": "#999", "fontWeight": "normal"},
   "data": {"name": "leg"},
   "encoding": {"x": {"field": "k", "type": "nominal", "scale": {"type": "point", "range": [3.5, 98], "padding": 0}, "axis": null}},
   "layer": [
    {"mark": {"type": "square", "size": 20, "opacity": 1, "yOffset": -3.5}, "encoding": {"color": {"field": "k", "type": "nominal", "scale": {"domain": ["A","B","C","D","E","F","G","H"], "range": ["#e8482a","#d8c41e","#6fd628","#2fd67a","#38c0e8","#2030d8","#9a3ee6","#e8308c"]}, "legend": null}}},
    {"mark": {"type": "text", "fontSize": 4.5, "align": "left", "dx": 4, "yOffset": -3.5, "color": "#333", "font": "Liberation Sans"}, "encoding": {"text": {"field": "k"}}}
   ]}
 ], "spacing": 6.5, "center": true},
 {"vconcat": [
  {"width": 303, "height": 22, "view": {"fill": "#efefef", "stroke": "#444", "strokeWidth": 1.2},
   "data": {"values": [{"n": "LL601"}]},
   "mark": {"type": "text", "font": "Liberation Serif", "fontSize": 17, "baseline": "middle", "color": "#111"},
   "encoding": {"text": {"field": "n"}}},
  {"hconcat": [
  {"width": 1, "height": 1, "view": {"stroke": null}, "data": {"name": "none"}, "mark": "point"},
  {"width": 238, "height": 114,
   "title": {"text": "Amplification Plot", "fontSize": 7, "fontWeight": "bold", "offset": 4, "frame": "bounds", "color": "#111"},
   "view": {"stroke": "#b8b8b8", "fill": "white"},
   "encoding": {"y": {"field": "v", "type": "quantitative", "scale": {"type": "log", "domain": [0.001, 10]}, "axis": {"title": "ΔRn", "tickCount": 60, "values": [0.001,0.002,0.003,0.004,0.005,0.006,0.007,0.008,0.009,0.01,0.02,0.03,0.04,0.05,0.06,0.07,0.08,0.09,0.1,0.2,0.3,0.4,0.5,0.6,0.7,0.8,0.9,1,2,3,4,5,6,7,8,9,10], "labelExpr": "datum.value==10?'10.00':datum.value==1?'1.000':datum.value==0.1?'0.1':datum.value==0.01?'0.01':datum.value==0.001?'0.001':''", "labelOverlap": false, "labelPadding": 3, "titlePadding": 3}}},
   "layer": [
    {"data": {"values": [
{"c":"1","x":18,"v":0.0023},{"c":"1","x":19.5,"v":0.0103},{"c":"1","x":21.4,"v":0.045},{"c":"1","x":23.8,"v":0.28},{"c":"1","x":25.7,"v":0.75},{"c":"1","x":27.5,"v":1.34},{"c":"1","x":30,"v":2.2},{"c":"1","x":33.1,"v":3.0},{"c":"1","x":37.4,"v":3.7},{"c":"1","x":41,"v":4.2},{"c":"1","x":45,"v":4.6},
{"c":"2","x":26.4,"v":0.0005},{"c":"2","x":26.6,"v":0.001},{"c":"2","x":27,"v":0.0035},{"c":"2","x":28.4,"v":0.0103},{"c":"2","x":30.6,"v":0.03},{"c":"2","x":32.4,"v":0.115},{"c":"2","x":33.4,"v":0.28},{"c":"2","x":34.9,"v":0.57},{"c":"2","x":36.7,"v":1.1},{"c":"2","x":39.8,"v":1.9},{"c":"2","x":42.5,"v":2.8},{"c":"2","x":45,"v":3.5},
{"c":"3","x":26.8,"v":0.0005},{"c":"3","x":27,"v":0.001},{"c":"3","x":27.4,"v":0.0033},{"c":"3","x":28.8,"v":0.0095},{"c":"3","x":31,"v":0.028},{"c":"3","x":32.9,"v":0.11},{"c":"3","x":34,"v":0.27},{"c":"3","x":35.5,"v":0.55},{"c":"3","x":37.3,"v":1.05},{"c":"3","x":40.2,"v":1.8},{"c":"3","x":42.8,"v":2.6},{"c":"3","x":45,"v":3.3},
{"c":"n1","x":1,"v":0.0016},{"c":"n1","x":2,"v":0.0011},{"c":"n1","x":3,"v":0.0005},
{"c":"n2","x":3.7,"v":0.0005},{"c":"n2","x":4,"v":0.0011},{"c":"n2","x":4.3,"v":0.0005},
{"c":"n3","x":9.9,"v":0.0005},{"c":"n3","x":10.3,"v":0.0011},{"c":"n3","x":10.7,"v":0.0005},
{"c":"n4","x":12.2,"v":0.0005},{"c":"n4","x":12.5,"v":0.0014},{"c":"n4","x":13.3,"v":0.0015},{"c":"n4","x":13.6,"v":0.001},{"c":"n4","x":14,"v":0.0005},
{"c":"n5","x":17.4,"v":0.0005},{"c":"n5","x":17.7,"v":0.0011},{"c":"n5","x":18,"v":0.0005},
{"c":"n6","x":28.4,"v":0.0005},{"c":"n6","x":28.7,"v":0.0011},{"c":"n6","x":29,"v":0.0005}
    ]},
     "mark": {"type": "line", "clip": true, "interpolate": "monotone", "strokeWidth": 0.9, "color": "#d070c6"},
     "encoding": {"x": {"field": "x", "type": "quantitative", "scale": {"domain": [1, 45], "nice": false, "zero": false}, "axis": {"title": "Cycle", "tickCount": 60, "values": [2,4,6,8,10,12,14,16,18,20,22,24,26,28,30,32,34,36,38,40,42,44], "labelPadding": 2, "titlePadding": 1, "labelFlush": false, "labelOverlap": false}}, "detail": {"field": "c"}}},
    {"data": {"values": [{"v": 0.2783, "lab": "0.278259"}]}, "mark": {"type": "rule", "color": "#7c7a55", "strokeWidth": 2}, "encoding": {}},
    {"data": {"values": [{"v": 0.2783, "lab": "0.278259"}]}, "mark": {"type": "text", "align": "left", "baseline": "bottom", "dy": -0.5, "fontSize": 4.5, "color": "#c03030", "font": "Liberation Sans"}, "encoding": {"x": {"datum": 1.15}, "text": {"field": "lab"}}}
   ]}
  ], "spacing": 0},
  {"width": 262, "height": 17, "view": {"stroke": "#8a9aa4", "fill": "white"},
   "title": {"text": "Legend", "fontSize": 3.5, "anchor": "start", "offset": 1, "color": "#999", "fontWeight": "normal"},
   "data": {"name": "leg"},
   "encoding": {"x": {"field": "k", "type": "nominal", "scale": {"type": "point", "range": [3.5, 98], "padding": 0}, "axis": null}},
   "layer": [
    {"mark": {"type": "square", "size": 20, "opacity": 1, "yOffset": -3.5}, "encoding": {"color": {"field": "k", "type": "nominal", "scale": {"domain": ["A","B","C","D","E","F","G","H"], "range": ["#e8482a","#d8c41e","#6fd628","#2fd67a","#38c0e8","#2030d8","#9a3ee6","#e8308c"]}, "legend": null}}},
    {"mark": {"type": "text", "fontSize": 4.5, "align": "left", "dx": 4, "yOffset": -3.5, "color": "#333", "font": "Liberation Sans"}, "encoding": {"text": {"field": "k"}}}
   ]}
 ], "spacing": 6.5, "center": true}
], "spacing": 0}
]
}
